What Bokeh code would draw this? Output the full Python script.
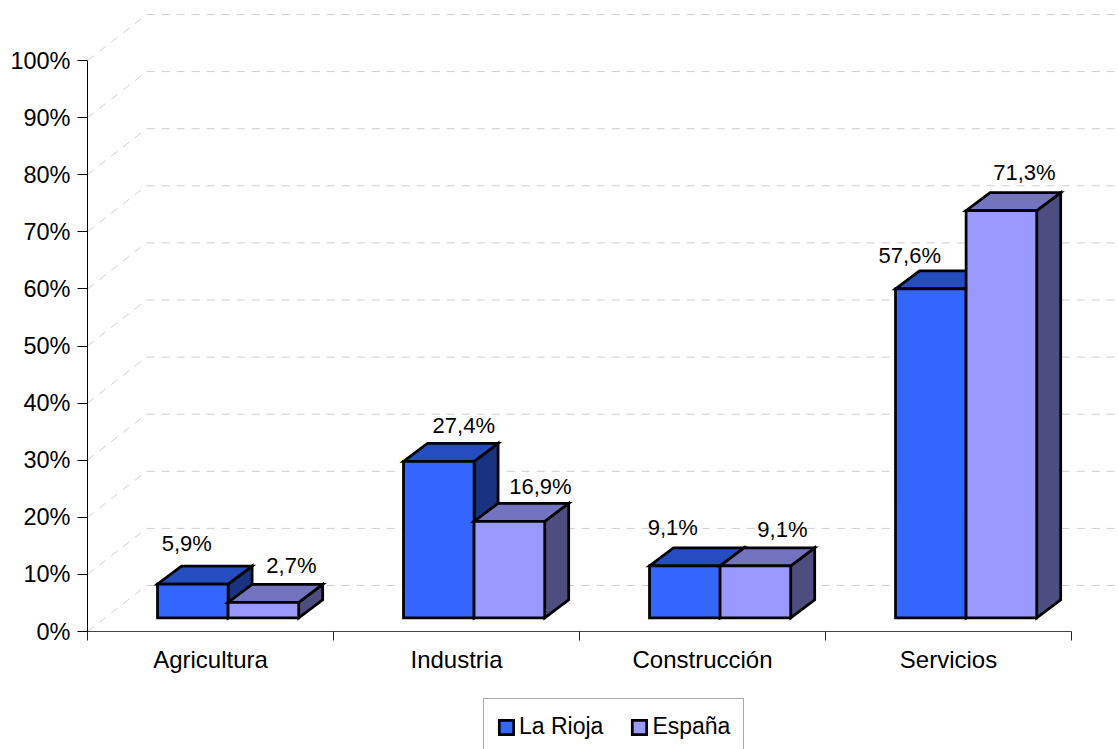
from bokeh.plotting import figure
from bokeh.layouts import column
from bokeh.models import FixedTicker, PrintfTickFormatter, Legend, LegendItem, ColumnDataSource, Range1d
from bokeh.core.properties import value
from bokeh.embed import file_html
from bokeh.resources import INLINE
import numpy as np

categories = ["Agricultura", "Industria", "Construcción", "Servicios"]
series_names = ["La Rioja", "España"]
la_rioja = [5.9, 27.4, 9.1, 57.6]
espana = [2.7, 16.9, 9.1, 71.3]
label_rioja = ["5,9%", "27,4%", "9,1%", "57,6%"]
label_espana = ["2,7%", "16,9%", "9,1%", "71,3%"]
y_ticks = list(range(0, 101, 10))

# hand-placed data label offsets (screen px from the top-centre of each bar's front)
off_x_rioja = [-6, 25, -12, -21]
off_y_rioja = [41, 36, 38, 33]
off_x_espana = [28, 31, 27, 23]
off_y_espana = [37, 35, 36, 38]

# colours: front, top, side
col_rioja = ["#3366FF", "#264DBF", "#1A3380"]
col_espana = ["#9999FF", "#7373BF", "#4D4D80"]

FONT = "Liberation Sans"
PX_X = 246.0
PX_Y = 5.71
bar_start, bar_w = 70 / PX_X, 70.6 / PX_X
depth_x, depth_y = 24 / PX_X, 18 / PX_Y
floor_y = 13.7 / PX_Y
wall_x, wall_y = 59 / PX_X, 46 / PX_Y
EDGE = dict(line_color="black", line_width=2.75, line_join="miter")

FW, FH = 1032, 631
p = figure(width=1119, height=698, output_backend="svg", toolbar_location=None,
           x_range=Range1d(0, FW / PX_X), y_range=Range1d(0, FH / PX_Y),
           min_border_left=87, min_border_right=0, min_border_top=0, min_border_bottom=67,
           outline_line_color=None)
p.grid.visible = False

# 3D wall gridlines
xs_g = [[0, wall_x, FW / PX_X] for _ in y_ticks]
ys_g = [[v, v + wall_y, v + wall_y] for v in y_ticks]
p.multi_line(xs_g, ys_g, line_color="#cfcfcf", line_width=1, line_dash="8 7")

def draw(vals, idx, cols):
    lefts = np.arange(len(vals)) + bar_start + idx * bar_w
    rights = lefts + bar_w
    tops = floor_y + np.array(vals)
    top_x = [[l, r, r + depth_x, l + depth_x] for l, r in zip(lefts, rights)]
    top_y = [[t, t, t + depth_y, t + depth_y] for t in tops]
    side_x = [[r, r + depth_x, r + depth_x, r] for r in rights]
    side_y = [[floor_y, floor_y + depth_y, t + depth_y, t] for t in tops]
    p.patches(side_x, side_y, fill_color=cols[2], **EDGE)
    p.patches(top_x, top_y, fill_color=cols[1], **EDGE)
    p.quad(left=lefts, right=rights, bottom=floor_y, top=tops, fill_color=cols[0], **EDGE)
    return (lefts + rights) / 2, tops

cx1, t1 = draw(la_rioja, 0, col_rioja)
cx2, t2 = draw(espana, 1, col_espana)

lab_src = ColumnDataSource(dict(
    x=list(cx1) + list(cx2), y=list(t1) + list(t2),
    t=label_rioja + label_espana,
    dx=off_x_rioja + off_x_espana,
    dy=[-d for d in off_y_rioja + off_y_espana]))
p.text(x="x", y="y", text="t", x_offset="dx", y_offset="dy", source=lab_src,
       text_font=value(FONT), text_font_size="22px", text_color="black",
       text_align="center", text_baseline="middle")

# axes
xa = p.xaxis[0]
centers = [i + 0.5 for i in range(len(categories))]
xa.ticker = FixedTicker(ticks=centers, minor_ticks=list(range(len(categories) + 1)))
xa.major_label_overrides = {c: n for c, n in zip(centers, categories)}
xa.bounds = (0, len(categories))
xa.major_tick_out = 0
xa.major_tick_in = 0
xa.minor_tick_out = 9
xa.minor_tick_in = 0
xa.minor_tick_line_color = "#222222"
xa.axis_line_color = "#444444"
xa.major_label_standoff = 5
xa.major_label_text_font = FONT
xa.major_label_text_font_size = "24px"
xa.major_label_text_color = "black"

ya = p.yaxis[0]
ya.ticker = FixedTicker(ticks=y_ticks, minor_ticks=[])
ya.formatter = PrintfTickFormatter(format="%d%%")
ya.bounds = (0, 100)
ya.major_tick_out = 10
ya.major_tick_in = 0
ya.minor_tick_out = 0
ya.major_tick_line_color = "black"
ya.axis_line_color = "black"
ya.major_label_standoff = 7
ya.major_label_text_font = FONT
ya.major_label_text_font_size = "23.5px"
ya.major_label_text_color = "black"

# legend strip: its own figure (its frame aligns with the main plot's) holding only the legend
q = figure(width=1119, height=51, output_backend="svg", toolbar_location=None,
           x_range=Range1d(0, 1), y_range=Range1d(0, 1),
           min_border_left=0, min_border_right=0, min_border_top=0, min_border_bottom=0,
           outline_line_color=None, x_axis_type=None, y_axis_type=None)
q.grid.visible = False
nan = float("nan")
blank = dict(left=[nan], right=[nan], bottom=[nan], top=[nan])  # draws nothing; legend swatch only
k1 = q.quad(source=ColumnDataSource(blank), left="left", right="right", bottom="bottom", top="top",
            fill_color=col_rioja[0], **EDGE)
k2 = q.quad(source=ColumnDataSource(blank), left="left", right="right", bottom="bottom", top="top",
            fill_color=col_espana[0], **EDGE)
legend = Legend(items=[LegendItem(label=series_names[0], renderers=[k1]),
                       LegendItem(label=series_names[1], renderers=[k2])],
                orientation="horizontal", location=(396, -6),
                glyph_width=18, glyph_height=18, label_standoff=4, spacing=27,
                padding=13, margin=0, label_height=29,
                label_text_font=FONT, label_text_font_size="23px", label_text_color="black",
                border_line_color="#555555", border_line_width=1,
                background_fill_color="white", background_fill_alpha=1)
q.add_layout(legend, "center")

layout = column(p, q, spacing=0)
open("out.html", "w").write(file_html(layout, INLINE))
